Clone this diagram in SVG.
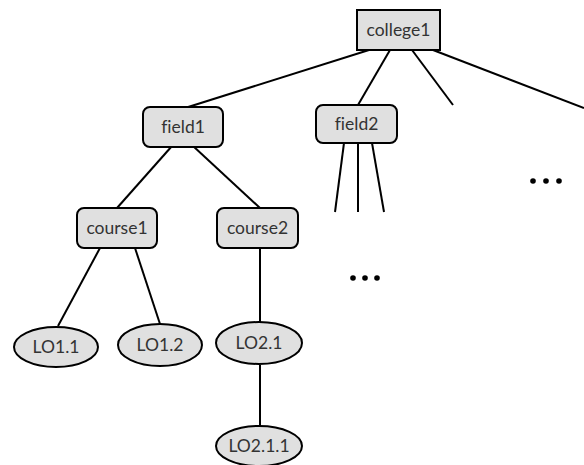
<svg xmlns="http://www.w3.org/2000/svg" width="584" height="465" viewBox="0 0 584 465">
  <style>
    .box { fill: #e0e0e0; stroke: #000; stroke-width: 2; }
    .oval { fill: #e0e0e0; stroke: #000; stroke-width: 2; }
    .edge { stroke: #000; stroke-width: 2; fill: none; }
    .lbl { font-family: Lato, "Liberation Sans", Arial, sans-serif; font-size: 17.5px; fill: #333; text-anchor: middle; font-variant-ligatures: none; }
    .dot { fill: #000; }
  </style>
  <rect width="584" height="465" fill="#fff"/>

  <g id="connectors">
    <line class="edge" x1="369" y1="50" x2="185" y2="108"/>
    <line class="edge" x1="390" y1="50" x2="358" y2="105"/>
    <line class="edge" x1="412" y1="50" x2="453" y2="105"/>
    <line class="edge" x1="433" y1="50" x2="584" y2="108"/>
    <line class="edge" x1="344" y1="143" x2="335" y2="212"/>
    <line class="edge" x1="358" y1="143" x2="358" y2="212"/>
    <line class="edge" x1="372" y1="143" x2="384" y2="212"/>
    <line class="edge" x1="172" y1="146" x2="117" y2="208"/>
    <line class="edge" x1="193" y1="146" x2="260" y2="208"/>
    <line class="edge" x1="100" y1="248" x2="58" y2="326"/>
    <line class="edge" x1="135" y1="248" x2="160" y2="324"/>
    <line class="edge" x1="260" y1="248" x2="260" y2="322"/>
    <line class="edge" x1="260" y1="365" x2="260" y2="426"/>
  </g>

  <g id="college1">
    <rect class="box" x="357" y="10" width="83" height="40"/>
    <text class="lbl" x="398.5" y="36">college1</text>
  </g>
  <g id="field1">
    <rect class="box" x="143" y="107" width="80" height="40" rx="7"/>
    <text class="lbl" x="183" y="133">field1</text>
  </g>
  <g id="field2">
    <rect class="box" x="316" y="105" width="81" height="38" rx="7"/>
    <text class="lbl" x="356.5" y="130">field2</text>
  </g>
  <g id="course1">
    <rect class="box" x="77" y="208" width="80" height="40" rx="7"/>
    <text class="lbl" x="117" y="234">course1</text>
  </g>
  <g id="course2">
    <rect class="box" x="217" y="208" width="81" height="40" rx="7"/>
    <text class="lbl" x="257.5" y="234">course2</text>
  </g>
  <g id="LO1.1">
    <ellipse class="oval" cx="56" cy="347" rx="42" ry="20"/>
    <text class="lbl" x="56" y="353">LO1.1</text>
  </g>
  <g id="LO1.2">
    <ellipse class="oval" cx="160" cy="345" rx="42" ry="21"/>
    <text class="lbl" x="160" y="351">LO1.2</text>
  </g>
  <g id="LO2.1">
    <ellipse class="oval" cx="259" cy="343" rx="43" ry="21"/>
    <text class="lbl" x="259" y="349">LO2.1</text>
  </g>
  <g id="LO2.1.1">
    <ellipse class="oval" cx="259" cy="446" rx="43" ry="20"/>
    <text class="lbl" x="259" y="452">LO2.1.1</text>
  </g>

  <g id="more-courses">
    <circle class="dot" cx="353" cy="278" r="2.8"/>
    <circle class="dot" cx="365" cy="278" r="2.8"/>
    <circle class="dot" cx="377" cy="278" r="2.8"/>
  </g>
  <g id="more-fields">
    <circle class="dot" cx="533" cy="181" r="2.8"/>
    <circle class="dot" cx="546" cy="181" r="2.8"/>
    <circle class="dot" cx="559" cy="181" r="2.8"/>
  </g>
</svg>
